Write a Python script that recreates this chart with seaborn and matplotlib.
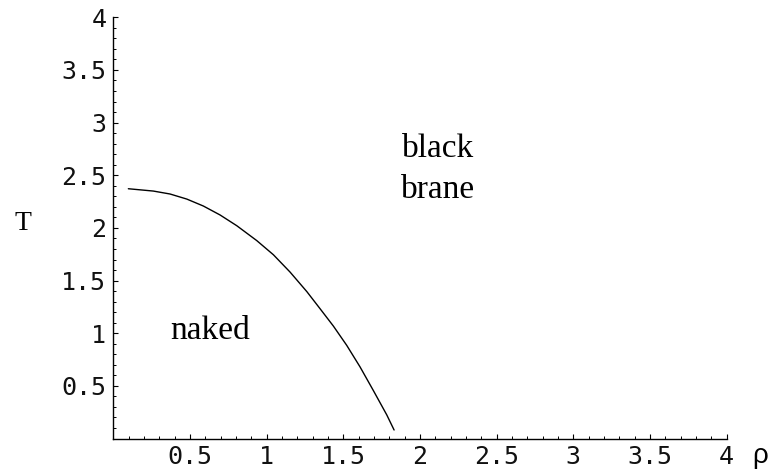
import numpy as np
import pandas as pd
import seaborn as sns
from matplotlib import pyplot as plt
from matplotlib.ticker import MultipleLocator

# phase boundary
rho = [0.098, 0.261, 0.370, 0.479, 0.587, 0.696, 0.805, 0.935, 1.044, 1.153,
       1.262, 1.347, 1.435, 1.522, 1.609, 1.696, 1.783, 1.831]
temp = [2.372, 2.350, 2.322, 2.274, 2.208, 2.123, 2.021, 1.880, 1.745, 1.580,
        1.395, 1.235, 1.068, 0.885, 0.680, 0.455, 0.225, 0.081]

x_ticks = [0.5, 1, 1.5, 2, 2.5, 3, 3.5, 4]
x_labels = ["0.5", "1", "1.5", "2", "2.5", "3", "3.5", "4"]
y_ticks = [0.5, 1, 1.5, 2, 2.5, 3, 3.5, 4]
y_labels = ["0.5", "1", "1.5", "2", "2.5", "3", "3.5", "4"]

df = pd.DataFrame({"rho": rho, "T": temp})

sns.set_theme(style="ticks")
plt.rcParams['font.family'] = ['DejaVu Sans']
plt.rcParams['text.color'] = 'black'

fig = plt.figure(figsize=(7.73, 4.73), dpi=100)
ax = fig.add_axes([0.1466, 0.0729, 0.7935, 0.8905])

sns.lineplot(data=df, x="rho", y="T", color="black", lw=1.0, sort=False,
             estimator=None, ax=ax)

ax.set_xlim(0, 4)
ax.set_ylim(0, 4)
sns.despine(ax=ax)
for s in ["left", "bottom"]:
    ax.spines[s].set_linewidth(1.0)
    ax.spines[s].set_color("black")

ax.set_xticks(x_ticks)
ax.set_xticklabels(x_labels)
ax.set_yticks(y_ticks)
ax.set_yticklabels(y_labels)
ax.xaxis.set_minor_locator(MultipleLocator(0.1))
ax.yaxis.set_minor_locator(MultipleLocator(0.1))
ax.tick_params(which="major", direction="in", length=3.8, width=0.8, color="black",
               labelsize=18, pad=5, labelcolor="#111111")
ax.tick_params(which="minor", direction="in", length=2.0, width=0.7, color="black")
for lab in ax.get_xticklabels() + ax.get_yticklabels():
    lab.set_family("DejaVu Sans Mono")

ax.set_xlabel("")
ax.set_ylabel("")

serif = ["Liberation Serif", "DejaVu Serif"]
ax.text(-0.59, 2.04, "T", family=serif, fontsize=20, ha="center", va="center",
        color="black", clip_on=False)
ax.text(4.22, -0.17, "ρ", family=["Liberation Sans", "DejaVu Sans"], fontsize=20,
        ha="center", va="center", color="black", clip_on=False)

ax.text(2.12, 2.673, "black", family=serif, fontsize=24, ha="center", va="baseline", color="black")
ax.text(2.12, 2.284, "brane", family=serif, fontsize=24, ha="center", va="baseline", color="black")
ax.text(0.633, 0.945, "naked", family=serif, fontsize=24, ha="center", va="baseline", color="black")

fig.savefig("out.png", dpi=100)
